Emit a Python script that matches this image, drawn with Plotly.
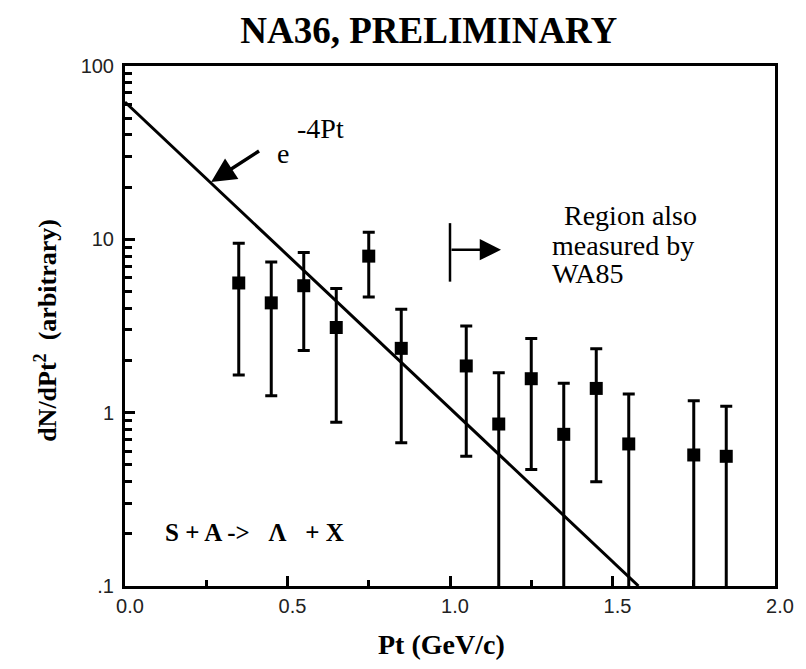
import plotly.graph_objects as go

# ---- data ----
pt = [0.35, 0.45, 0.55, 0.65, 0.75, 0.85, 1.05, 1.15, 1.25, 1.35, 1.45, 1.55, 1.75, 1.85]
dndpt = [5.6, 4.3, 5.4, 3.1, 8.0, 2.35, 1.86, 0.86, 1.57, 0.75, 1.38, 0.66, 0.57, 0.56]
upper = [9.5, 7.4, 8.4, 5.2, 11.0, 3.95, 3.16, 1.70, 2.68, 1.48, 2.34, 1.28, 1.17, 1.09]
lower = [1.65, 1.25, 2.28, 0.88, 4.65, 0.67, 0.56, 0.05, 0.47, 0.05, 0.40, 0.05, 0.05, 0.05]

fit_pt = [0.0, 1.58]
fit_y = [62.0, 0.1]

wa85_pt = [1.0, 1.0]
wa85_y = [12.4, 5.7]

x_tickvals = [0.0, 0.5, 1.0, 1.5, 2.0]
x_ticktext = ["0.0", "0.5", "1.0", "1.5", "2.0"]
x_minor = [0.25, 0.75, 1.25, 1.75]
y_tickvals = [0.1, 1, 10, 100]
y_ticktext = [".1", "1", "10", "100"]
y_minor = [0.2, 0.3, 0.4, 0.5, 0.6, 0.7, 0.8, 0.9,
           2, 3, 4, 5, 6, 7, 8, 9,
           20, 30, 40, 50, 60, 70, 80, 90]

err_plus = [u - v for u, v in zip(upper, dndpt)]
err_minus = [v - l for v, l in zip(dndpt, lower)]

SERIF = "Liberation Serif"
SANS = "Liberation Sans"

fig = go.Figure()

fig.add_trace(go.Scatter(
    x=fit_pt, y=fit_y, mode="lines",
    line=dict(color="black", width=3), showlegend=False, hoverinfo="skip"))

fig.add_trace(go.Scatter(
    x=pt, y=dndpt, mode="markers",
    marker=dict(symbol="square", size=13, color="black"),
    error_y=dict(type="data", array=err_plus, arrayminus=err_minus,
                 color="black", thickness=3, width=6),
    showlegend=False))

fig.add_trace(go.Scatter(
    x=wa85_pt, y=wa85_y, mode="lines",
    line=dict(color="black", width=2.5), showlegend=False, hoverinfo="skip"))

annotations = [
    # arrow to the fit line
    dict(x=0.265, y=1.331, ax=0.417, ay=1.515, xref="x", yref="y", axref="x", ayref="y",
         text="", showarrow=True, arrowhead=2, arrowsize=1.4, arrowwidth=3.5, arrowcolor="black"),
    dict(x=0.463, y=1.498, xref="x", yref="y", xanchor="left", yanchor="middle",
         text="e", showarrow=False,
         font=dict(family=SERIF, size=28, color="black")),
    dict(x=0.524, y=1.642, xref="x", yref="y", xanchor="left", yanchor="middle",
         text="-4Pt", showarrow=False,
         font=dict(family=SERIF, size=28, color="black")),
    # WA85 region arrow
    dict(x=1.157, y=0.94, ax=1.0, ay=0.94, xref="x", yref="y", axref="x", ayref="y",
         text="", showarrow=True, arrowhead=2, arrowsize=1.7, arrowwidth=2.5, arrowcolor="black"),
    dict(x=(567 - 125) / 328.5, y=2 - (215 - 66) / 173.3, xref="x", yref="y",
         xanchor="left", yanchor="middle", text="Region also", showarrow=False,
         font=dict(family=SERIF, size=28, color="black")),
    dict(x=(555 - 125) / 328.5, y=2 - (245 - 66) / 173.3, xref="x", yref="y",
         xanchor="left", yanchor="middle", text="measured by", showarrow=False,
         font=dict(family=SERIF, size=28, color="black")),
    dict(x=(555 - 125) / 328.5, y=2 - (273 - 66) / 173.3, xref="x", yref="y",
         xanchor="left", yanchor="middle", text="WA85", showarrow=False,
         font=dict(family=SERIF, size=28, color="black")),
    dict(x=0.116, y=-0.689, xref="x", yref="y", xanchor="left", yanchor="middle",
         text="<b>S + A -&gt;&nbsp;&nbsp;&nbsp;Λ&nbsp;&nbsp;&nbsp;+ X</b>", showarrow=False,
         font=dict(family=SERIF, size=25, color="black")),
    # axis titles
    dict(x=0.487, y=-0.113, xref="paper", yref="paper", xanchor="center", yanchor="middle",
         text="<b>Pt (GeV/c)</b>", showarrow=False,
         font=dict(family=SERIF, size=28, color="black")),
    dict(x=-0.122, y=0.492, xref="paper", yref="paper", xanchor="center", yanchor="middle",
         text="<b>dN/dPt<sup>2</sup>&nbsp;&nbsp;(arbitrary)</b>", showarrow=False, textangle=-90,
         font=dict(family=SERIF, size=26, color="black")),
]

fig.update_layout(
    width=806, height=669,
    margin=dict(l=125, r=24, t=66, b=83),
    paper_bgcolor="white", plot_bgcolor="white",
    title=dict(text="<b>NA36, PRELIMINARY</b>", x=0.532, xanchor="center",
               y=0.955, yanchor="middle", font=dict(family=SERIF, size=37, color="black")),
    annotations=annotations,
    xaxis=dict(range=[0, 2], showgrid=False, zeroline=False,
               showline=True, linecolor="black", linewidth=3, mirror=True,
               tickmode="array", tickvals=x_tickvals, ticktext=x_ticktext,
               ticks="inside", ticklen=10, tickwidth=2.5, tickcolor="black",
               minor=dict(ticks="inside", ticklen=6, tickwidth=2.5, tickcolor="black",
                          tickmode="array", tickvals=x_minor),
               ticklabelshift=5,
               tickfont=dict(family=SANS, size=20, color="#222")),
    yaxis=dict(type="log", range=[-1, 2], showgrid=False, zeroline=False,
               showline=True, linecolor="black", linewidth=3, mirror=True,
               tickmode="array", tickvals=y_tickvals, ticktext=y_ticktext,
               ticks="inside", ticklen=10, tickwidth=2.5, tickcolor="black",
               minor=dict(ticks="inside", ticklen=7, tickwidth=2.5, tickcolor="black",
                          tickmode="array", tickvals=y_minor),
               ticklabelstandoff=4,
               tickfont=dict(family=SANS, size=20, color="#222")),
)

fig.write_html("out.html")
